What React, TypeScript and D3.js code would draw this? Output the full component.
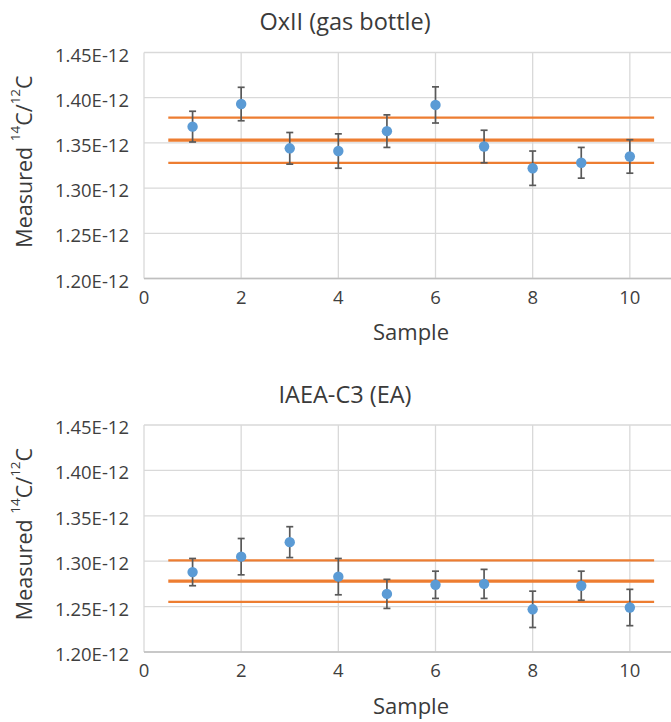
import * as d3 from "d3";

// sample numbers
const samples = [1, 2, 3, 4, 5, 6, 7, 8, 9, 10];

// OxII (gas bottle): measured 14C/12C and 1-sigma error
const oxiiRatio = [1.368e-12, 1.393e-12, 1.344e-12, 1.341e-12, 1.363e-12, 1.392e-12, 1.346e-12, 1.322e-12, 1.328e-12, 1.335e-12];
const oxiiError = [0.017e-12, 0.0185e-12, 0.0175e-12, 0.019e-12, 0.018e-12, 0.02e-12, 0.018e-12, 0.019e-12, 0.017e-12, 0.0185e-12];
const oxiiMean = 1.353e-12;
const oxiiSd = 0.025e-12;

// IAEA-C3 (EA)
const c3Ratio = [1.288e-12, 1.305e-12, 1.321e-12, 1.283e-12, 1.264e-12, 1.274e-12, 1.275e-12, 1.247e-12, 1.273e-12, 1.249e-12];
const c3Error = [0.015e-12, 0.02e-12, 0.017e-12, 0.02e-12, 0.016e-12, 0.015e-12, 0.016e-12, 0.02e-12, 0.016e-12, 0.02e-12];
const c3Mean = 1.278e-12;
const c3Sd = 0.0228e-12;

// axes
const xDomain = [0, 12];
const xGrid = [0, 2, 4, 6, 8, 10, 12];
const xLabels = [0, 2, 4, 6, 8, 10]; // 12 falls outside the cropped picture
const yTicks = [1.2e-12, 1.25e-12, 1.3e-12, 1.35e-12, 1.4e-12, 1.45e-12];
const lineSpan = [0.5, 10.5];

const FONT = "'Open Sans', 'Noto Sans', sans-serif";
const fmt = (v: number) => d3.format(".2e")(v).toUpperCase();

function Panel({ title, values, errors, mean, sd, plotTop, plotBottom }: any) {
  const x = d3.scaleLinear().domain(xDomain).range([144, 727]);
  const y = d3.scaleLinear().domain([yTicks[0], yTicks[yTicks.length - 1]]).range([plotBottom, plotTop]);
  const hline = d3.line<number>().x(d => x(d)).y(0);
  const bands = [mean + sd, mean - sd];

  return (
    <g>
      <text x={345} y={plotTop - 22.5} textAnchor="middle" fontFamily={FONT} fontSize={23.5} fill="#3a3a3a">{title}</text>

      {/* grid */}
      {yTicks.map(t => (
        <line key={"gy" + t} x1={x(0)} x2={x(12)} y1={y(t)} y2={y(t)} stroke="#d9d9d9" strokeWidth={1.3} />
      ))}
      {xGrid.map(t => (
        <line key={"gx" + t} x1={x(t)} x2={x(t)} y1={plotTop} y2={plotBottom} stroke="#d9d9d9" strokeWidth={1.3} />
      ))}
      <line x1={x(0)} x2={x(12)} y1={plotBottom} y2={plotBottom} stroke="#bfbfbf" strokeWidth={1.6} />

      {/* tick labels */}
      {yTicks.map(t => (
        <text key={"ly" + t} x={129} y={y(t) + 1.5} textAnchor="end" dominantBaseline="central"
          fontFamily={FONT} fontSize={18.5} fill="#3f3f3f">{fmt(t)}</text>
      ))}
      {xLabels.map(t => (
        <text key={"lx" + t} x={x(t)} y={plotBottom + 25} textAnchor="middle"
          fontFamily={FONT} fontSize={18.5} fill="#3f3f3f">{t}</text>
      ))}

      {/* mean and +/- sd lines */}
      <g transform={`translate(0,${y(mean)})`}>
        <path d={hline(lineSpan) || ""} stroke="#ed7d31" strokeWidth={3.2} fill="none" />
      </g>
      {bands.map(b => (
        <g key={"b" + b} transform={`translate(0,${y(b)})`}>
          <path d={hline(lineSpan) || ""} stroke="#ed7d31" strokeWidth={2.2} fill="none" />
        </g>
      ))}

      {/* error bars */}
      {samples.map((s, i) => {
        const cx = x(s);
        const y1 = y(values[i] + errors[i]);
        const y2 = y(values[i] - errors[i]);
        return (
          <g key={"e" + s} stroke="#595959" strokeWidth={1.7}>
            <line x1={cx} x2={cx} y1={y1} y2={y2} />
            <line x1={cx - 3.5} x2={cx + 3.5} y1={y1} y2={y1} />
            <line x1={cx - 3.5} x2={cx + 3.5} y1={y2} y2={y2} />
          </g>
        );
      })}
      {samples.map((s, i) => (
        <circle key={"p" + s} cx={x(s)} cy={y(values[i])} r={5.2} fill="#5b9bd5" />
      ))}

      {/* axis titles */}
      <text x={411} y={plotBottom + 61.5} textAnchor="middle" fontFamily={FONT} fontSize={22} fill="#3a3a3a">Sample</text>
      <text transform={`translate(23,${plotTop + 109}) rotate(-90)`} textAnchor="middle" dominantBaseline="central"
        fontFamily={FONT} fontSize={21.5} fill="#3a3a3a">
        Measured <tspan fontSize={13.5} dy={-8}>14</tspan><tspan dy={8}>C/</tspan><tspan fontSize={13.5} dy={-8}>12</tspan><tspan dy={8}>C</tspan>
      </text>
    </g>
  );
}

export default function App() {
  return (
    <div style={{ position: "absolute", left: 0, top: 0, width: 671, height: 722, background: "#fff" }}>
      <svg width={671} height={722} style={{ display: "block" }}>
        <rect width={671} height={722} fill="#fff" />
        <Panel title="OxII (gas bottle)" values={oxiiRatio} errors={oxiiError} mean={oxiiMean} sd={oxiiSd}
          plotTop={52.5} plotBottom={278.5} />
        <Panel title="IAEA-C3 (EA)" values={c3Ratio} errors={c3Error} mean={c3Mean} sd={c3Sd}
          plotTop={425} plotBottom={652} />
      </svg>
    </div>
  );
}
